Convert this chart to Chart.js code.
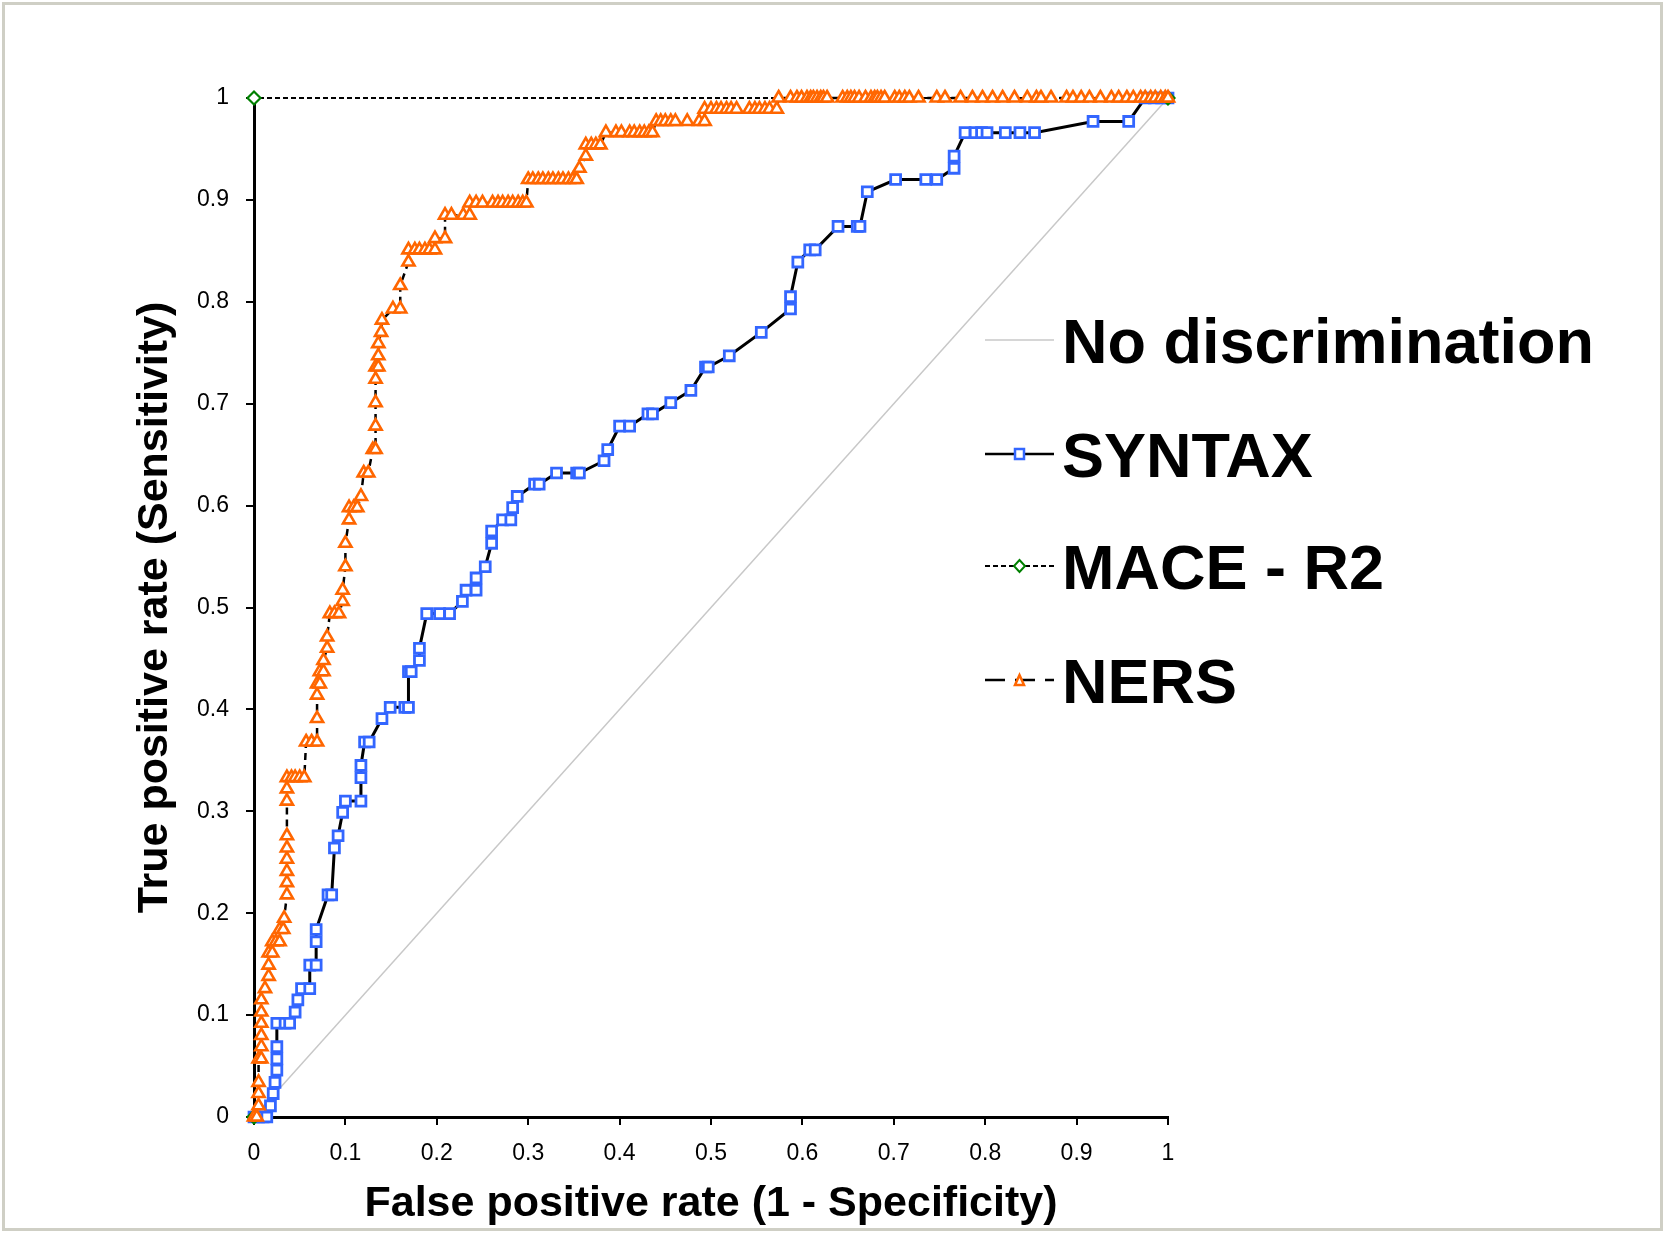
<!DOCTYPE html>
<html>
<head>
<meta charset="utf-8">
<script src="https://cdn.jsdelivr.net/npm/chart.js@4"></script>
<style>
  html, body { margin: 0; padding: 0; background: #fff; }
  #wrap { position: relative; width: 1665px; height: 1233px; overflow: hidden; font-family: "Liberation Sans", Arial, Helvetica, sans-serif; }
  #roc { position: absolute; left: 0; top: 0; width: 1665px; height: 1233px; }
  #frame { position: absolute; left: 2px; top: 2px; right: 2px; bottom: 2px; border: 3px solid #cfcfc5; pointer-events: none; }
  .lg-row { position: absolute; left: 984px; height: 63px; }
  .lg-row svg { position: absolute; left: 0; }
  .lg-row span { position: absolute; left: 78px; top: 0; font-size: 63px; line-height: 63px; font-weight: bold; color: #000; white-space: nowrap; }
</style>
</head>
<body>
<div id="wrap">
  <canvas id="roc" width="1665" height="1233"></canvas>
  <div class="lg-row" style="top:310px">
    <svg width="72" height="20" style="top:20px"><line x1="1" y1="10" x2="70" y2="10" stroke="#c8c8c8" stroke-width="1.5"/></svg>
    <span>No discrimination</span>
  </div>
  <div class="lg-row" style="top:424px">
    <svg width="72" height="20" style="top:20px"><line x1="1" y1="10" x2="70" y2="10" stroke="#000" stroke-width="2.5"/><rect x="31" y="5" width="9" height="10" fill="#fff" stroke="#3366ff" stroke-width="2.5"/></svg>
    <span>SYNTAX</span>
  </div>
  <div class="lg-row" style="top:536px">
    <svg width="72" height="20" style="top:20px"><line x1="1" y1="10" x2="70" y2="10" stroke="#000" stroke-width="2" stroke-dasharray="5,3"/><polygon points="35.5,4 41,10 35.5,16 30,10" fill="#fff" stroke="#008000" stroke-width="2"/></svg>
    <span>MACE - R2</span>
  </div>
  <div class="lg-row" style="top:650px">
    <svg width="72" height="20" style="top:20px"><line x1="1" y1="10" x2="70" y2="10" stroke="#000" stroke-width="2.5" stroke-dasharray="20,10"/><polygon points="35.5,5 40,15 31,15" fill="#fff" stroke="#ff6600" stroke-width="2.5"/></svg>
    <span>NERS</span>
  </div>
  <div id="frame"></div>
</div>
<script>
// ROC curves: SYNTAX vs MACE - R2 vs NERS

// Axis ticks
const xTickValues = [0, 0.1, 0.2, 0.3, 0.4, 0.5, 0.6, 0.7, 0.8, 0.9, 1];
const xTickLabels = ['0', '0.1', '0.2', '0.3', '0.4', '0.5', '0.6', '0.7', '0.8', '0.9', '1'];
const yTickValues = [0, 0.1, 0.2, 0.3, 0.4, 0.5, 0.6, 0.7, 0.8, 0.9, 1];
const yTickLabels = ['0', '0.1', '0.2', '0.3', '0.4', '0.5', '0.6', '0.7', '0.8', '0.9', '1'];

// Reference diagonal
const diagFpr = [0, 1];
const diagTpr = [0, 1];

// MACE - R2 (perfect curve)
const maceFpr = [0, 0, 1];
const maceTpr = [0, 1, 1];

// SYNTAX
const syntaxFpr = [
    0, 0.005, 0.010, 0.014, 0.018, 0.021, 0.023, 0.025, 0.025, 0.025,
    0.025, 0.034, 0.039, 0.045, 0.048, 0.052, 0.061, 0.061, 0.068, 0.068,
    0.068, 0.081, 0.085, 0.088, 0.092, 0.097, 0.100, 0.117, 0.117, 0.117,
    0.121, 0.126, 0.140, 0.149, 0.165, 0.169, 0.169, 0.172, 0.181, 0.181,
    0.189, 0.203, 0.214, 0.228, 0.232, 0.243, 0.243, 0.253, 0.260, 0.260,
    0.272, 0.281, 0.283, 0.288, 0.307, 0.312, 0.331, 0.353, 0.356, 0.383,
    0.387, 0.400, 0.411, 0.431, 0.436, 0.456, 0.478, 0.494, 0.497, 0.520,
    0.555, 0.587, 0.587, 0.595, 0.608, 0.614, 0.639, 0.660, 0.663, 0.671,
    0.702, 0.735, 0.747, 0.766, 0.766, 0.778, 0.789, 0.796, 0.802, 0.822,
    0.838, 0.854, 0.918, 0.957, 0.975, 0.985, 0.993, 1
];
const syntaxTpr = [
    0, 0, 0, 0, 0.011, 0.023, 0.034, 0.046, 0.057, 0.069,
    0.092, 0.092, 0.092, 0.103, 0.115, 0.126, 0.126, 0.149, 0.149, 0.172,
    0.184, 0.218, 0.218, 0.264, 0.276, 0.299, 0.310, 0.310, 0.333, 0.345,
    0.368, 0.368, 0.391, 0.402, 0.402, 0.402, 0.437, 0.437, 0.448, 0.460,
    0.494, 0.494, 0.494, 0.506, 0.517, 0.517, 0.529, 0.540, 0.563, 0.575,
    0.586, 0.586, 0.598, 0.609, 0.621, 0.621, 0.632, 0.632, 0.632, 0.644,
    0.655, 0.678, 0.678, 0.690, 0.690, 0.701, 0.713, 0.736, 0.736, 0.747,
    0.770, 0.793, 0.805, 0.839, 0.851, 0.851, 0.874, 0.874, 0.874, 0.908,
    0.920, 0.920, 0.920, 0.931, 0.943, 0.966, 0.966, 0.966, 0.966, 0.966,
    0.966, 0.966, 0.977, 0.977, 1, 1, 1, 1
];

// NERS
const nersFpr = [
    0, 0.003, 0.005, 0.005, 0.005, 0.005, 0.008, 0.008, 0.008, 0.008,
    0.008, 0.008, 0.012, 0.016, 0.016, 0.016, 0.020, 0.020, 0.024, 0.028,
    0.028, 0.032, 0.033, 0.036, 0.036, 0.036, 0.036, 0.036, 0.036, 0.036,
    0.036, 0.036, 0.041, 0.045, 0.050, 0.055, 0.057, 0.063, 0.069, 0.069,
    0.069, 0.069, 0.072, 0.072, 0.076, 0.076, 0.080, 0.080, 0.083, 0.088,
    0.093, 0.097, 0.097, 0.100, 0.100, 0.104, 0.104, 0.109, 0.113, 0.117,
    0.120, 0.125, 0.130, 0.133, 0.133, 0.133, 0.133, 0.133, 0.136, 0.136,
    0.136, 0.139, 0.140, 0.152, 0.160, 0.160, 0.169, 0.169, 0.176, 0.181,
    0.187, 0.192, 0.198, 0.198, 0.209, 0.209, 0.216, 0.229, 0.236, 0.236,
    0.243, 0.250, 0.261, 0.267, 0.272, 0.278, 0.283, 0.289, 0.294, 0.298,
    0.300, 0.305, 0.311, 0.316, 0.322, 0.327, 0.333, 0.338, 0.344, 0.349,
    0.353, 0.356, 0.363, 0.363, 0.369, 0.374, 0.379, 0.385, 0.396, 0.402,
    0.411, 0.416, 0.422, 0.427, 0.432, 0.436, 0.440, 0.445, 0.450, 0.456,
    0.461, 0.474, 0.487, 0.493, 0.493, 0.500, 0.506, 0.511, 0.517, 0.522,
    0.528, 0.542, 0.548, 0.553, 0.559, 0.564, 0.572, 0.574, 0.587, 0.594,
    0.599, 0.605, 0.609, 0.612, 0.616, 0.620, 0.623, 0.627, 0.644, 0.649,
    0.653, 0.657, 0.662, 0.669, 0.675, 0.679, 0.682, 0.686, 0.690, 0.701,
    0.706, 0.712, 0.717, 0.727, 0.747, 0.756, 0.773, 0.786, 0.797, 0.808,
    0.819, 0.832, 0.846, 0.856, 0.861, 0.872, 0.889, 0.896, 0.905, 0.914,
    0.926, 0.938, 0.946, 0.955, 0.962, 0.970, 0.975, 0.981, 0.986, 0.992,
    0.997, 1
];
const nersTpr = [
    0, 0, 0.011, 0.023, 0.034, 0.057, 0.057, 0.069, 0.080, 0.092,
    0.103, 0.115, 0.126, 0.138, 0.149, 0.161, 0.161, 0.172, 0.172, 0.172,
    0.184, 0.184, 0.195, 0.218, 0.230, 0.241, 0.253, 0.264, 0.276, 0.310,
    0.322, 0.333, 0.333, 0.333, 0.333, 0.333, 0.368, 0.368, 0.368, 0.391,
    0.414, 0.425, 0.425, 0.437, 0.437, 0.448, 0.460, 0.471, 0.494, 0.494,
    0.494, 0.506, 0.517, 0.540, 0.563, 0.586, 0.598, 0.598, 0.598, 0.609,
    0.632, 0.632, 0.655, 0.655, 0.678, 0.701, 0.724, 0.736, 0.736, 0.747,
    0.759, 0.770, 0.782, 0.793, 0.793, 0.816, 0.839, 0.851, 0.851, 0.851,
    0.851, 0.851, 0.851, 0.862, 0.862, 0.885, 0.885, 0.885, 0.885, 0.897,
    0.897, 0.897, 0.897, 0.897, 0.897, 0.897, 0.897, 0.897, 0.897, 0.897,
    0.920, 0.920, 0.920, 0.920, 0.920, 0.920, 0.920, 0.920, 0.920, 0.920,
    0.920, 0.931, 0.943, 0.954, 0.954, 0.954, 0.954, 0.966, 0.966, 0.966,
    0.966, 0.966, 0.966, 0.966, 0.966, 0.966, 0.977, 0.977, 0.977, 0.977,
    0.977, 0.977, 0.977, 0.977, 0.989, 0.989, 0.989, 0.989, 0.989, 0.989,
    0.989, 0.989, 0.989, 0.989, 0.989, 0.989, 0.989, 1, 1, 1,
    1, 1, 1, 1, 1, 1, 1, 1, 1, 1,
    1, 1, 1, 1, 1, 1, 1, 1, 1, 1,
    1, 1, 1, 1, 1, 1, 1, 1, 1, 1,
    1, 1, 1, 1, 1, 1, 1, 1, 1, 1,
    1, 1, 1, 1, 1, 1, 1, 1, 1, 1,
    1, 1
];

function toPoints(xs, ys) {
    return xs.map((x, i) => ({ x: x, y: ys[i] }));
}

const fontFamily = '"Liberation Sans", Arial, Helvetica, sans-serif';

new Chart(document.getElementById('roc'), {
    type: 'scatter',
    data: {
        datasets: [
            {
                label: 'NERS',
                data: toPoints(nersFpr, nersTpr),
                showLine: true,
                borderColor: '#000',
                borderWidth: 2.5,
                borderDash: [7, 5],
                pointStyle: 'triangle',
                pointRadius: 7,
                pointBorderWidth: 2.6,
                pointBorderColor: '#ff6600',
                pointBackgroundColor: '#fff',
                clip: false,
                order: 0
            },
            {
                label: 'MACE - R2',
                data: toPoints(maceFpr, maceTpr),
                showLine: true,
                borderColor: '#000',
                borderWidth: 2,
                borderDash: [5, 3],
                pointStyle: 'rectRot',
                pointRadius: 6.5,
                pointBorderWidth: 2.2,
                pointBorderColor: '#008000',
                pointBackgroundColor: '#fff',
                clip: false,
                order: 1
            },
            {
                label: 'SYNTAX',
                data: toPoints(syntaxFpr, syntaxTpr),
                showLine: true,
                borderColor: '#000',
                borderWidth: 3,
                pointStyle: 'rect',
                pointRadius: 7,
                pointBorderWidth: 2.8,
                pointBorderColor: '#3366ff',
                pointBackgroundColor: '#fff',
                clip: false,
                order: 2
            },
            {
                label: 'No discrimination',
                data: toPoints(diagFpr, diagTpr),
                showLine: true,
                borderColor: '#c8c8c8',
                borderWidth: 1.5,
                pointRadius: 0,
                clip: false,
                order: 3
            }
        ]
    },
    options: {
        responsive: false,
        animation: false,
        devicePixelRatio: 1,
        layout: {
            padding: { top: 98, right: 497, bottom: 0, left: 0 }
        },
        plugins: {
            legend: { display: false },  // HTML legend on the right
            tooltip: { enabled: false }
        },
        scales: {
            x: {
                type: 'linear',
                min: 0,
                max: 1,
                afterFit: scale => { scale.height = 116; },
                afterBuildTicks: scale => { scale.ticks = xTickValues.map(v => ({ value: v })); },
                grid: { display: true, drawOnChartArea: false, drawTicks: true, tickLength: 8, color: '#000', lineWidth: 2 },
                border: { display: true, color: '#000', width: 3 },
                ticks: {
                    autoSkip: false,
                    maxRotation: 0,
                    padding: 15,
                    color: '#000',
                    font: { family: fontFamily, size: 23 },
                    callback: (value, index) => xTickLabels[index]
                },
                title: {
                    display: true,
                    text: 'False positive rate (1 - Specificity)',
                    color: '#000',
                    font: { family: fontFamily, size: 43, weight: 'bold' },
                    padding: { top: 0, bottom: 3 }
                }
            },
            y: {
                type: 'linear',
                min: 0,
                max: 1,
                afterFit: scale => { scale.width = 254; },
                afterBuildTicks: scale => { scale.ticks = yTickValues.map(v => ({ value: v })); },
                grid: { display: true, drawOnChartArea: false, drawTicks: true, tickLength: 8, color: '#000', lineWidth: 2 },
                border: { display: true, color: '#000', width: 3 },
                ticks: {
                    autoSkip: false,
                    padding: 17,
                    color: '#000',
                    font: { family: fontFamily, size: 23 },
                    callback: (value, index) => yTickLabels[index]
                },
                title: {
                    display: true,
                    text: 'True positive rate (Sensitivity)',
                    color: '#000',
                    font: { family: fontFamily, size: 43, weight: 'bold' },
                    padding: { top: 129, bottom: 0 }
                }
            }
        }
    }
});
</script>
</body>
</html>
